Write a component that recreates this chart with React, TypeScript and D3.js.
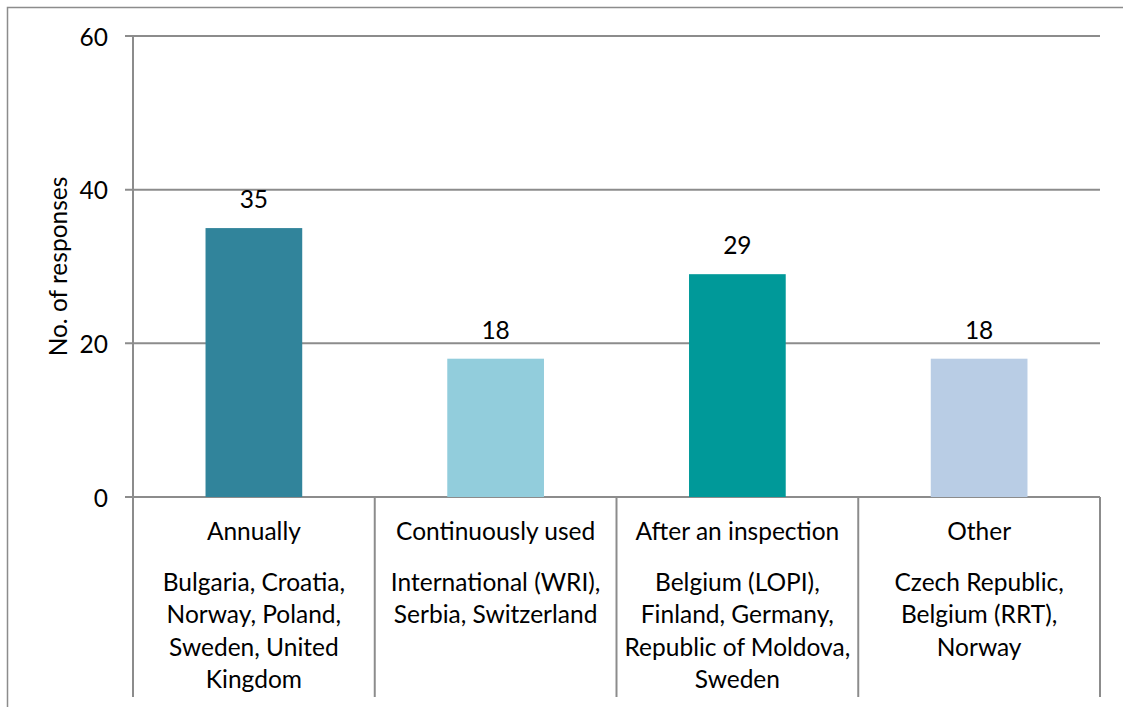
import React from "react";
import * as d3 from "d3";

const categories = ["Annually", "Continuously used", "After an inspection", "Other"];
const values = [35, 18, 29, 18];
const barColors = ["#31849B", "#92CDDC", "#009999", "#B9CDE5"];
const countryLines = [
  ["Bulgaria, Croatia,", "Norway, Poland,", "Sweden, United", "Kingdom"],
  ["International (WRI),", "Serbia, Switzerland"],
  ["Belgium (LOPI),", "Finland, Germany,", "Republic of Moldova,", "Sweden"],
  ["Czech Republic,", "Belgium (RRT),", "Norway"],
];
const yTicks = [0, 20, 40, 60];
const yTitle = "No. of responses";

const W = 1123;
const H = 707;
const left = 133;
const right = 1100;
const top = 36;
const bottom = 497;
const font = "Lato, 'Open Sans', sans-serif";
const fs = 24.5;
const grid = "#8C8C8C";

export default function App() {
  const x = d3.scaleBand<string>().domain(categories).range([left, right]).paddingInner(0).paddingOuter(0);
  const y = d3.scaleLinear().domain([0, 60]).range([bottom, top]);
  const bw = x.bandwidth() * 0.4;
  const seps = [left, ...categories.map((c) => (x(c) as number) + x.bandwidth())];

  return (
    <svg width={W} height={H} style={{ position: "absolute", left: 0, top: 0, background: "#fff" }} fontFamily={font}>
      <rect x={7.5} y={7.5} width={1130} height={710} fill="none" stroke={grid} strokeWidth={1.5} />
      {yTicks.map((t) => (
        <g key={t}>
          <line x1={left - 8} x2={right} y1={y(t)} y2={y(t)} stroke={grid} strokeWidth={2} />
          <text x={108} y={y(t)} textAnchor="end" dominantBaseline="central" fontSize={fs} fill="#000">
            {t}
          </text>
        </g>
      ))}
      <line x1={left} x2={left} y1={top} y2={bottom} stroke={grid} strokeWidth={2} />
      {seps.map((s, i) => (
        <line key={i} x1={s} x2={s} y1={bottom} y2={697} stroke={grid} strokeWidth={2} />
      ))}
      {categories.map((c, i) => {
        const cx = (x(c) as number) + x.bandwidth() / 2;
        return (
          <g key={c}>
            <rect x={cx - bw / 2} y={y(values[i])} width={bw} height={bottom - y(values[i])} fill={barColors[i]} />
            <text x={cx} y={y(values[i]) - 20} textAnchor="middle" fontSize={fs} fill="#000">
              {values[i]}
            </text>
            <text x={cx} y={540} textAnchor="middle" fontSize={fs} fill="#000">
              {c}
            </text>
            {countryLines[i].map((l, j) => (
              <text key={j} x={cx} y={591 + j * 32.3} textAnchor="middle" fontSize={fs} fill="#000">
                {l}
              </text>
            ))}
          </g>
        );
      })}
      <text transform={`translate(67, ${(top + bottom) / 2}) rotate(-90)`} textAnchor="middle" fontSize={fs} fill="#000">
        {yTitle}
      </text>
    </svg>
  );
}
